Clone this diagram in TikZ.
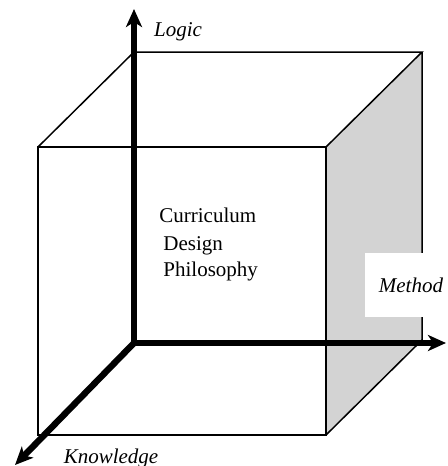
\documentclass[tikz,border=0pt]{standalone}
\usepackage{fontspec}
\setmainfont{Liberation Serif}
\usetikzlibrary{arrows.meta}
\definecolor{Side}{HTML}{D3D3D3}

\begin{document}
\begin{tikzpicture}[x=0.5pt, y=-0.5pt,
  edge/.style={line width=0.75pt, line join=miter},
  axis/.style={line width=3.2pt, line cap=round, -{Stealth[length=9pt, width=8pt, inset=2.5pt]}},
  axislabel/.style={font=\fontsize{10.5}{13}\selectfont\itshape, inner sep=0pt},
  body/.style={font=\fontsize{10.5}{13}\selectfont, inner sep=0pt, align=left}]
  \useasboundingbox (0,0) rectangle (448,466);
  % cube corners
  \coordinate (ftl) at (38,147);
  \coordinate (ftr) at (326,147);
  \coordinate (fbr) at (326,435);
  \coordinate (fbl) at (38,435);
  \coordinate (btl) at (134,52);
  \coordinate (btr) at (422,52);
  \coordinate (bbr) at (422,340);
  % shaded side and edges
  \fill[Side] (ftr) -- (btr) -- (bbr) -- (fbr) -- cycle;
  \draw[edge] (fbl) rectangle (ftr);
  \draw[edge] (ftl) -- (btl) -- (btr) -- (ftr) (btr) -- (bbr) -- (fbr);
  % labels
  \node[axislabel, fill=white, minimum width=46pt, minimum height=32pt] (method) at (411,285) {Method};
  \node[axislabel] (logic) at (178,32) {Logic};
  \node[axislabel] (knowledge) at (111,458) {Knowledge};
  \node[body, anchor=north west] (philosophy) at (159,208)
    {Curriculum\\[1pt]\hspace*{2pt}Design\\\hspace*{2pt}Philosophy};
  % axes
  \coordinate (origin) at (134,343);
  \coordinate (logicend) at (134,9);
  \coordinate (methodend) at (446,343);
  \coordinate (knowend) at (15,465);
  \draw[axis] (origin) -- (logicend);
  \draw[axis] (origin) -- (methodend);
  \draw[axis] (origin) -- (knowend);
\end{tikzpicture}
\end{document}
